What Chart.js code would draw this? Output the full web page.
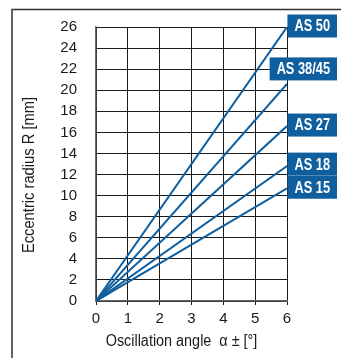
<!DOCTYPE html>
<html lang="en">
<head>
  <meta charset="UTF-8" />
  <title>Eccentric radius vs oscillation angle</title>
  <script src="https://cdn.jsdelivr.net/npm/chart.js"></script>
  <style>
    html, body { margin: 0; padding: 0; background: #fff; }
    canvas { display: block; }
  </style>
</head>
<body>
  <canvas id="radiusChart" width="341" height="358"></canvas>

  <script>
    // data
    const angles = [0, 6];
    const seriesNames = ['AS 50', 'AS 38/45', 'AS 27', 'AS 18', 'AS 15'];
    const as50 = [0, 26];
    const as3845 = [0, 20.6];
    const as27 = [0, 16.6];
    const as18 = [0, 12.8];
    const as15 = [0, 10.7];
    const xTicks = [0, 1, 2, 3, 4, 5, 6];
    const yTicks = [0, 2, 4, 6, 8, 10, 12, 14, 16, 18, 20, 22, 24, 26];
    const xTitle = 'Oscillation angle  \u03b1 \u00b1 [\u00b0]';
    const yTitle = 'Eccentric radius R [mm]';

    const FONT = "'Liberation Sans', Arial, sans-serif";
    const BLUE = '#0f5e9e';

    const seriesValues = [as50, as3845, as27, as18, as15];

    // white page + the thin frame round the figure
    const framePlugin = {
      id: 'frame',
      beforeDraw(chart) {
        const ctx = chart.ctx;
        ctx.save();
        ctx.fillStyle = '#fff';
        ctx.fillRect(0, 0, chart.width, chart.height);
        ctx.strokeStyle = '#333';
        ctx.lineWidth = 1.5;
        ctx.beginPath();
        ctx.moveTo(12, chart.height);
        ctx.lineTo(12, 9.5);
        ctx.lineTo(chart.width, 9.5);
        ctx.stroke();
        ctx.restore();
      }
    };

    // axis titles, condensed a bit and offset like the original
    const titlesPlugin = {
      id: 'axisTitles',
      afterDraw(chart) {
        const { ctx, chartArea } = chart;
        ctx.save();
        ctx.fillStyle = '#1a1a1a';
        ctx.font = '16px ' + FONT;
        ctx.textAlign = 'center';
        ctx.textBaseline = 'middle';
        ctx.save();
        ctx.translate((chartArea.left + chartArea.right) / 2 - 10, 342);
        ctx.scale(0.9, 1);
        ctx.fillText(xTitle, 0, 0);
        ctx.restore();
        ctx.translate(30, (chartArea.top + chartArea.bottom) / 2 + 11);
        ctx.rotate(-Math.PI / 2);
        ctx.scale(0.92, 1);
        ctx.fillText(yTitle, 0, 0);
        ctx.restore();
      }
    };

    // blue name boxes at the end of each line
    const boxOffsets = [-1, -15, -1, -2, -1];
    const labelsPlugin = {
      id: 'seriesLabels',
      afterDatasetsDraw(chart) {
        const { ctx, chartArea } = chart;
        const squeeze = 0.8;
        ctx.save();
        ctx.font = 'bold 16px ' + FONT;
        ctx.textAlign = 'center';
        ctx.textBaseline = 'middle';
        chart.data.datasets.forEach((ds, i) => {
          const meta = chart.getDatasetMeta(i);
          const end = meta.data[meta.data.length - 1];
          const w = Math.max(49, ctx.measureText(ds.label).width * squeeze + 14);
          const h = 23;
          const right = chartArea.right + 50;
          const cy = end.y + boxOffsets[i];
          ctx.fillStyle = BLUE;
          ctx.fillRect(right - w, cy - h / 2, w, h);
          ctx.save();
          ctx.translate(right - w / 2, cy + 1);
          ctx.scale(squeeze, 1);
          ctx.fillStyle = '#fff';
          ctx.fillText(ds.label, 0, 0);
          ctx.restore();
        });
        ctx.restore();
      }
    };

    new Chart(document.getElementById('radiusChart').getContext('2d'), {
      type: 'scatter',
      data: {
        datasets: seriesNames.map((name, i) => ({
          label: name,
          data: angles.map((a, j) => ({ x: a, y: seriesValues[i][j] })),
          showLine: true,
          borderColor: BLUE,
          backgroundColor: BLUE,
          borderWidth: 2,
          pointRadius: 0,
          tension: 0
        }))
      },
      options: {
        responsive: false,
        animation: false,
        layout: { padding: { left: 12, top: 27, right: 54, bottom: 0 } },
        plugins: {
          legend: { display: false },
          tooltip: { enabled: false }
        },
        scales: {
          x: {
            type: 'linear',
            min: xTicks[0],
            max: xTicks[xTicks.length - 1],
            afterFit: s => { s.height = 57; },
            ticks: { stepSize: 1, autoSkip: false, maxRotation: 0, color: '#1a1a1a', padding: 5, font: { family: FONT, size: 15 } },
            grid: { color: '#1a1a1a', lineWidth: 1, tickLength: 4 },
            border: { color: '#666', width: 1.5 }
          },
          y: {
            type: 'linear',
            min: yTicks[0],
            max: yTicks[yTicks.length - 1],
            afterFit: s => { s.width = 84; },
            ticks: { stepSize: 2, autoSkip: false, color: '#1a1a1a', padding: 18, font: { family: FONT, size: 15 } },
            grid: { color: '#1a1a1a', lineWidth: 1, tickLength: 1 },
            border: { color: '#666', width: 1.5 }
          }
        }
      },
      plugins: [framePlugin, titlesPlugin, labelsPlugin]
    });
  </script>
</body>
</html>
